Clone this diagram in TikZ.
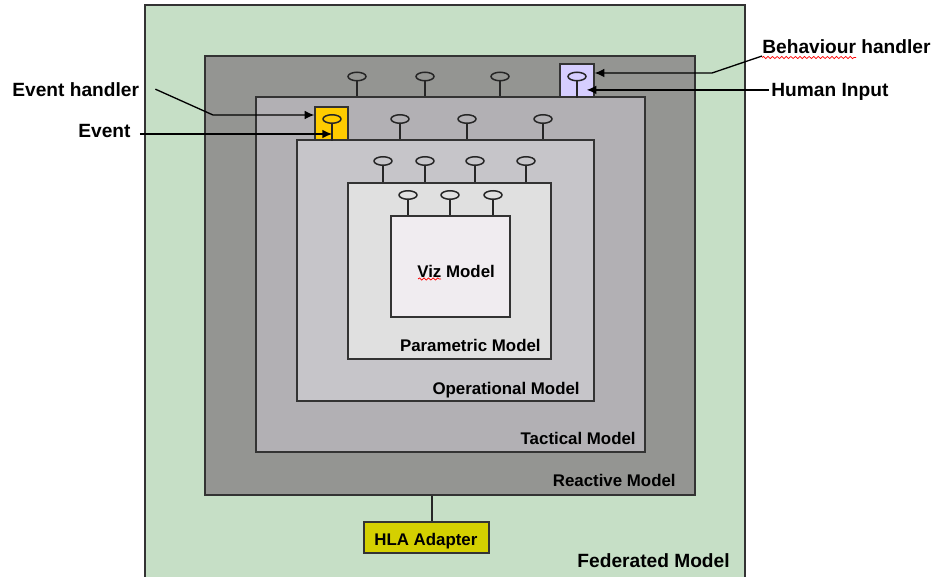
\documentclass[tikz,border=0pt]{standalone}
\usepackage{fontspec}
\setmainfont{Liberation Sans}
\usetikzlibrary{calc, fit, shapes.geometric, arrows.meta, decorations.pathmorphing}

\definecolor{fedgreen}{RGB}{198,223,198}
\definecolor{reactgray}{RGB}{148,149,146}
\definecolor{tacgray}{RGB}{178,176,180}
\definecolor{opgray}{RGB}{198,197,201}
\definecolor{pargray}{RGB}{224,224,224}
\definecolor{vizwhite}{RGB}{240,236,240}
\definecolor{evyellow}{RGB}{255,204,0}
\definecolor{behlilac}{RGB}{214,206,255}
\definecolor{hlaolive}{RGB}{212,208,0}

\begin{document}
\begin{tikzpicture}[x=0.02cm, y=-0.02cm,
  box/.style={draw=black!80, line width=0.8pt, inner sep=0pt},
  port/.style={ellipse, draw=black!85, line width=0.85pt, minimum width=0.36cm, minimum height=0.17cm, inner sep=0pt},
  stem/.style={draw=black!85, line width=0.75pt},
  lbl/.style={font=\fontsize{9.6}{11}\selectfont\bfseries, inner sep=0pt},
  outlbl/.style={font=\fontsize{10.9}{13}\selectfont\bfseries, inner sep=0pt},
  arr/.style={-{Latex[length=5.5pt,width=5pt]}, line width=0.75pt},
  spell/.style={red, line width=0.4pt, decorate, decoration={snake, amplitude=0.6pt, segment length=2.6pt}}]
  \useasboundingbox (0,0) rectangle (935,577);
  \clip (0,0) rectangle (935,577);

  % nested models
  \node[box, fill=fedgreen,  fit={(145,5) (745,590)}]   (fed) {};
  \node[box, fill=reactgray, fit={(205,56) (695,495)}]  (react) {};
  \node[box, fill=tacgray,   fit={(256,97) (645,452)}]  (tac) {};
  \node[box, fill=opgray,    fit={(297,140) (594,401)}] (op) {};
  \node[box, fill=pargray,   fit={(348,183) (551,359)}] (par) {};
  \node[box, fill=vizwhite,  fit={(391,216) (510,317)}] (viz) {};

  % handler boxes
  \node[box, fill=behlilac, fit={(560,64) (594,97)}]   (beh box) {};
  \node[box, fill=evyellow, fit={(315,107) (348,140)}] (ev box) {};

  % ports
  \foreach \x [count=\i] in {357,425,500} {
    \node[port] (rp\i) at (\x,76.5) {};
    \draw[stem] (rp\i.south) -- (rp\i.south |- tac.north);
  }
  \foreach \x [count=\i] in {400,467,543} {
    \node[port] (tp\i) at (\x,119) {};
    \draw[stem] (tp\i.south) -- (tp\i.south |- op.north);
  }
  \foreach \x [count=\i] in {383,425,475,526} {
    \node[port] (op\i) at (\x,161) {};
    \draw[stem] (op\i.south) -- (op\i.south |- par.north);
  }
  \foreach \x [count=\i] in {408,450,493} {
    \node[port] (pp\i) at (\x,195) {};
    \draw[stem] (pp\i.south) -- (pp\i.south |- viz.north);
  }
  \node[port] (bp) at (577,76.5) {};
  \draw[stem] (bp.south) -- (bp.south |- beh box.south);
  \node[port] (yp) at (332,119) {};
  \draw[stem] (yp.south) -- (yp.south |- ev box.south);

  % HLA adapter
  \node[box, fill=hlaolive, fit={(364,522) (489,553)}] (hla) {};
  \draw[stem] (hla.north -| 432,0) -- (react.south -| 432,0);

  % model labels
  \node[lbl, anchor=base west] (viz lbl) at (417,277) {Viz Model};
  \node[lbl, anchor=base east] at (541,351.5) {Parametric Model};
  \node[lbl, anchor=base east] at (580,394.3) {Operational Model};
  \node[lbl, anchor=base east] at (636,444.3) {Tactical Model};
  \node[lbl, anchor=base east] at (676,486) {Reactive Model};
  \node[outlbl, anchor=base east] at (730,567) {Federated Model};
  \node[lbl, anchor=base west] at (374,545) {HLA Adapter};

  % outside labels
  \node[outlbl, anchor=base west] (evh) at (12,97) {Event handler};
  \node[outlbl, anchor=base west] (ev)  at (78,138) {Event};
  \node[outlbl, anchor=base west] (beh) at (762,53.5) {Behaviour handler};
  \node[outlbl, anchor=base west] (hum) at (771,96.5) {Human Input};

  \draw[spell] (418,279) -- (441,279);
  \draw[spell] (762,57.5) -- (856,57.5);

  % arrows
  \coordinate (evh bend) at (213,115);
  \draw[arr] ($(evh.east)+(16,-1)$) -- (evh bend) -- (evh bend -| ev box.west);
  \coordinate (ev start) at ($(ev.east)+(9,2.5)$);
  \draw[arr] (ev start) -- (ev start -| yp.south);
  \coordinate (beh bend) at (712,73);
  \draw[arr] ($(beh.south west)+(0,2)$) -- (beh bend) -- (beh bend -| beh box.east);
  \coordinate (hum start) at ($(hum.west)+(-2,-2)$);
  \draw[arr] (hum start) -- (hum start -| bp.east);
\end{tikzpicture}
\end{document}
